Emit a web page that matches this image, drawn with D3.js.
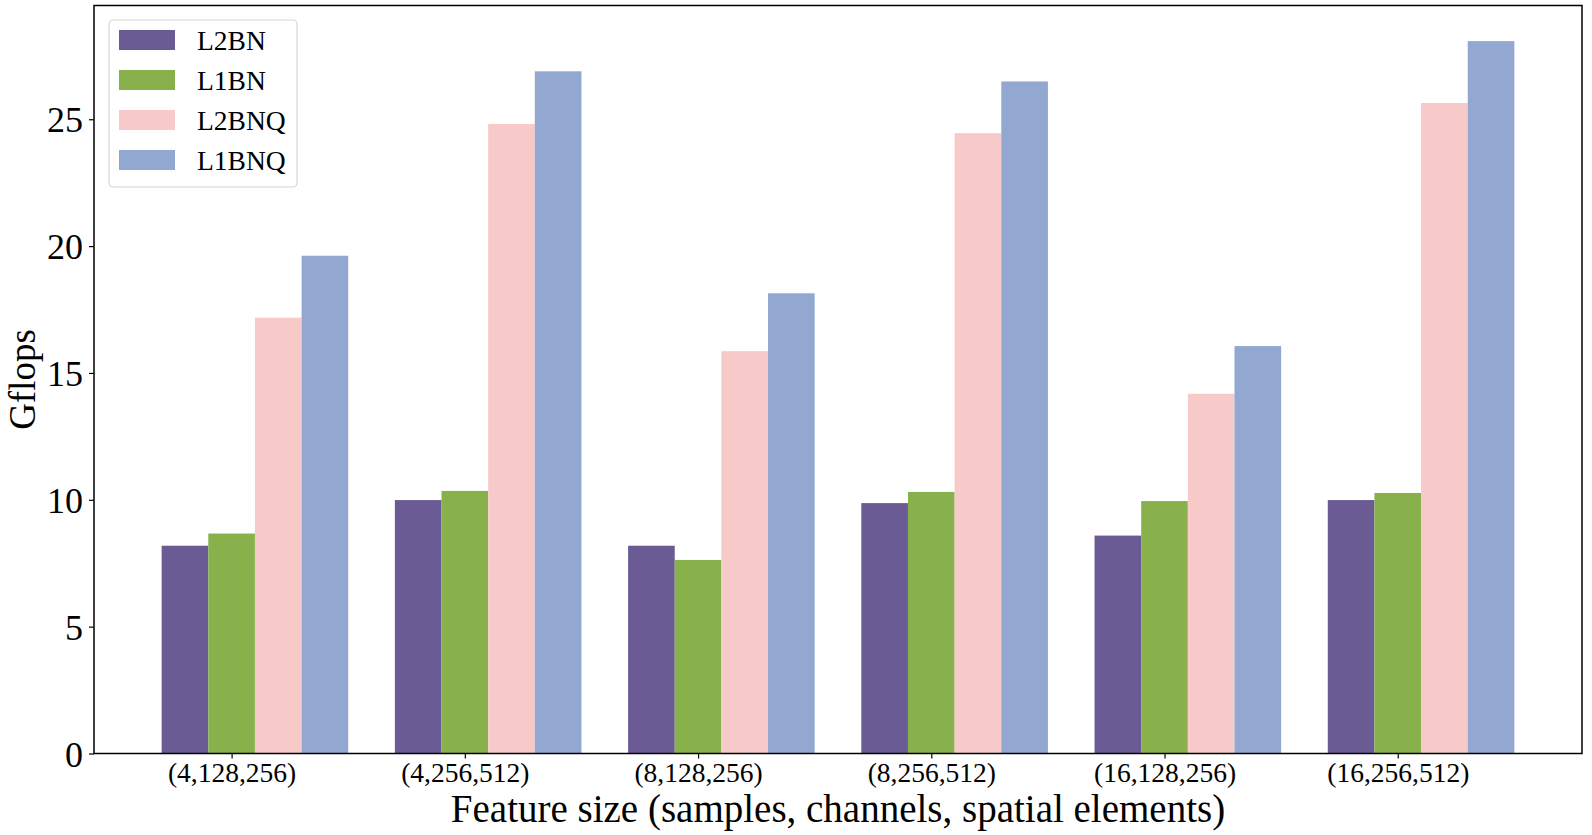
<!DOCTYPE html>
<html><head><meta charset="utf-8">
<script src="https://cdn.jsdelivr.net/npm/d3@7"></script>
<style>body{margin:0;background:#fff;} svg{display:block;font-family:"Liberation Serif","Times New Roman",serif;}</style>
</head><body>
<svg id="chart" width="1592" height="835"></svg>
<script>
const categories = ["(4,128,256)","(4,256,512)","(8,128,256)","(8,256,512)","(16,128,256)","(16,256,512)"];
const seriesNames = ["L2BN","L1BN","L2BNQ","L1BNQ"];
const L2BN  = [8.19, 9.99, 8.19, 9.87, 8.59, 9.99];
const L1BN  = [8.67, 10.35, 7.63, 10.31, 9.95, 10.27];
const L2BNQ = [17.18, 24.81, 15.86, 24.45, 14.18, 25.64];
const L1BNQ = [19.62, 26.89, 18.14, 26.49, 16.06, 28.08];
const colors = ["#6b5b95","#88b04b","#f7cac9","#92a8d1"];
const yTicks = [0,5,10,15,20,25];
const xLabel = "Feature size (samples, channels, spatial elements)";
const yLabel = "Gflops";

const series = [L2BN, L1BN, L2BNQ, L1BNQ];
const svg = d3.select("#chart");
const L = 94, R = 1582, T = 5.5, B = 753.5;
const barW = 0.2;
const offsets = [-0.2, 0, 0.2, 0.4];
const xmin = -0.3, xmax = categories.length - 1 + 0.5;
const xpad = (xmax - xmin) * 0.05;
const x = d3.scaleLinear().domain([xmin - xpad, xmax + xpad]).range([L, R]);
const ymaxData = d3.max(series.flat());
const y = d3.scaleLinear().domain([0, ymaxData * 1.05]).range([B, T]);

const g = svg.append("g");
series.forEach((s, si) => {
  g.selectAll(null).data(s).enter().append("rect")
    .attr("x", (d, i) => x(i + offsets[si] - barW / 2))
    .attr("width", x(barW) - x(0))
    .attr("y", d => y(d))
    .attr("height", d => y(0) - y(d))
    .attr("fill", colors[si]);
});

// axes
const yAxis = d3.axisLeft(y).tickValues(yTicks).tickSize(5).tickPadding(6).tickFormat(d3.format("d"));
const ya = svg.append("g").attr("transform", `translate(${L},0)`).call(yAxis);
ya.select(".domain").remove();
ya.selectAll("line").attr("stroke", "#000").attr("stroke-width", 1.2);
ya.selectAll("text").attr("font-size", 36).attr("fill", "#000").attr("font-family", "Liberation Serif").attr("dy", "0.35em");

const xAxis = d3.axisBottom(x).tickValues(d3.range(categories.length)).tickFormat(i => categories[i]).tickSize(5).tickPadding(4);
const xa = svg.append("g").attr("transform", `translate(0,${B})`).call(xAxis);
xa.select(".domain").remove();
xa.selectAll("line").attr("stroke", "#000").attr("stroke-width", 1.2);
xa.selectAll("text").attr("font-size", 27.5).attr("fill", "#000").attr("font-family", "Liberation Serif");

// frame
svg.append("rect").attr("x", L).attr("y", T).attr("width", R - L).attr("height", B - T)
  .attr("fill", "none").attr("stroke", "#000").attr("stroke-width", 1.5);

// labels
svg.append("text").attr("x", 838).attr("y", 822).attr("text-anchor", "middle")
  .attr("font-size", 39).attr("fill", "#000").text(xLabel);
svg.append("text").attr("transform", `translate(35,${(T + B) / 2}) rotate(-90)`).attr("text-anchor", "middle")
  .attr("font-size", 37).attr("fill", "#000").text(yLabel);

// legend
const lg = svg.append("g");
lg.append("rect").attr("x", 109).attr("y", 20).attr("width", 188).attr("height", 167).attr("rx", 4)
  .attr("fill", "#fff").attr("fill-opacity", 0.8).attr("stroke", "#d6d6d6").attr("stroke-width", 1.2);
seriesNames.forEach((n, i) => {
  lg.append("rect").attr("x", 119).attr("y", 30 + i * 40).attr("width", 56).attr("height", 20).attr("fill", colors[i]);
  lg.append("text").attr("x", 197).attr("y", 40 + i * 40).attr("dy", "0.35em").attr("font-size", 27.5).attr("fill", "#000").text(n);
});
</script>
</body></html>
